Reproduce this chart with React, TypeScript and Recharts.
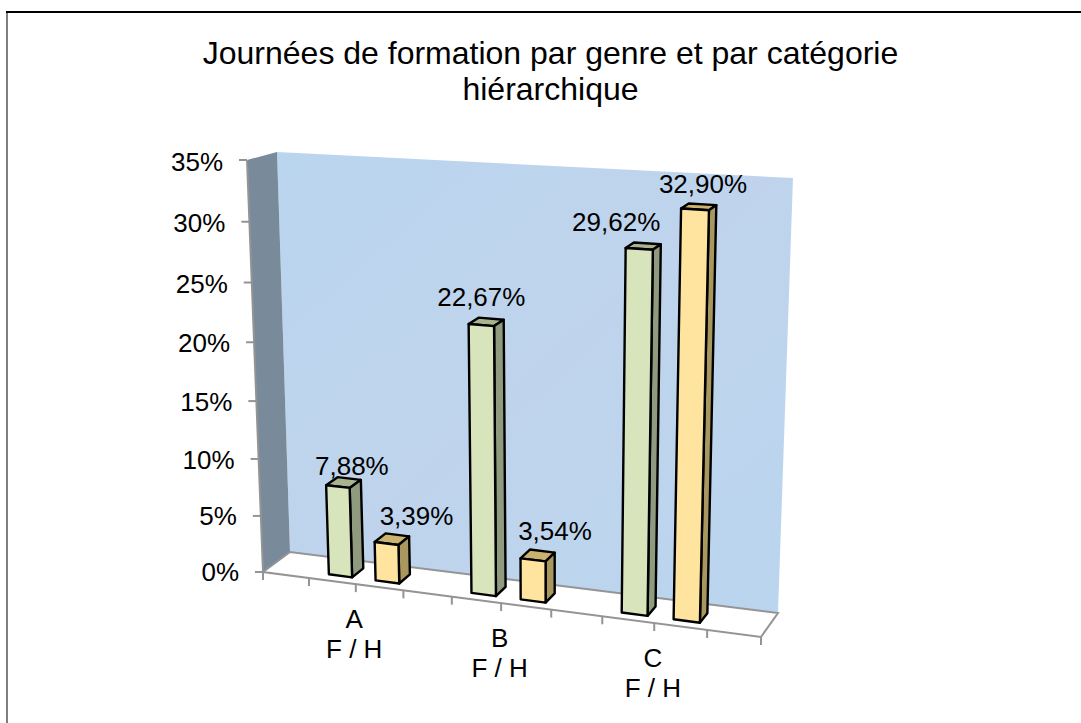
import React from "react";
import { BarChart, Bar, XAxis, YAxis, LabelList, Customized } from "recharts";

const categories = ["A", "B", "C"];
const subLabel = "F / H";
const femmes = [7.88, 22.67, 29.62];
const hommes = [3.39, 3.54, 32.9];
const yTicks = [0, 5, 10, 15, 20, 25, 30, 35];
const titleLines = ["Journées de formation par genre et par catégorie", "hiérarchique"];

const rows = categories.map((name, i) => ({ name, F: femmes[i], H: hommes[i] }));

const W = 1081, H = 723;
const YW = 60;
const M = { left: 40, top: 100, right: 381, bottom: 173 };
const XH = 30;
const PL = M.left + YW, PW = W - PL - M.right, PT = M.top, PH = H - M.top - M.bottom - XH, PB = PT + PH;
const FONT = "'Liberation Sans', Arial, sans-serif";

type P = [number, number];
// projective plane of the axis front: (u,v) unit square -> page
const Q: P[] = [[263, 572], [761, 637], [775, 189], [247, 160]];
const VP: P = [1407, -276];
const BAR_D0 = 0.0063, BAR_D1 = 0.0168;

const mk = () => {
  const [[x0, y0], [x1, y1], [x2, y2], [x3, y3]] = Q;
  const dx1 = x1 - x2, dx2 = x3 - x2, sx = x0 - x1 + x2 - x3;
  const dy1 = y1 - y2, dy2 = y3 - y2, sy = y0 - y1 + y2 - y3;
  const den = dx1 * dy2 - dx2 * dy1;
  const g = (sx * dy2 - dx2 * sy) / den, h = (dx1 * sy - sx * dy1) / den;
  const a = x1 - x0 + g * x1, b = x3 - x0 + h * x3, d = y1 - y0 + g * y1, e = y3 - y0 + h * y3;
  return (u: number, v: number): P => {
    const w = g * u + h * v + 1;
    return [(a * u + b * v + x0) / w, (d * u + e * v + y0) / w];
  };
};
const plane = mk();
const proj = (u: number, v: number, depth = 0): P => {
  const [x, y] = plane(u, v);
  return [x + depth * (VP[0] - x), y + depth * (VP[1] - y)];
};
const toU = (x: number) => (x - PL) / PW;
const toV = (y: number) => (PB - y) / PH;
const pts = (a: P[]) => a.map((p) => p.join(",")).join(" ");

const WALL_BACK: P[] = [[277, 152], [793, 178], [778, 613], [290, 552]];
const WALL_SIDE: P[] = [[247, 160], [277, 152], [290, 552], [263, 572]];
const FLOOR: P[] = [[263, 572], [290, 552], [778, 613], [761, 637]];
const GRID = "#949494";
const minorTicks = [0, 0.1, 0.2, 0.3, 0.4, 0.5, 0.6, 0.7, 0.8, 0.9, 1];

const Walls = () => (
  <g>
    <defs>
      <linearGradient id="wall" x1="0" y1="0" x2="1" y2="1">
        <stop offset="0" stopColor="#BAD5EE" />
        <stop offset="0.5" stopColor="#BFD4EC" />
        <stop offset="1" stopColor="#BAD5EE" />
      </linearGradient>
    </defs>
    {titleLines.map((t, i) => (
      <text key={t} x={550.5} y={64 + i * 36} textAnchor="middle" fontFamily={FONT} fontSize={32} fill="#000">{t}</text>
    ))}
    <polygon points={pts(WALL_BACK)} fill="url(#wall)" />
    <polygon points={pts(WALL_SIDE)} fill="#798A9B" />
    <polygon points={pts(FLOOR)} fill="#fff" stroke={GRID} strokeWidth={2} />
    <line x1={247} y1={160} x2={263} y2={572} stroke={GRID} strokeWidth={2} />
    {minorTicks.map((u) => {
      const [x, y] = proj(u, 0);
      return <line key={u} x1={x} y1={y} x2={x} y2={y + 8} stroke={GRID} strokeWidth={2} />;
    })}
  </g>
);

const faces = {
  F: { front: "#D7E4BC", side: "#8F9A7E", top: "#A9B48F" },
  H: { front: "#FEE49F", side: "#A8975F", top: "#CBB26F" },
};

const Box = (kind: "F" | "H") => (p: any) => {
  const u1 = toU(p.x), u2 = toU(p.x + p.width), v = toV(p.y);
  const fbl = proj(u1, 0, BAR_D0), fbr = proj(u2, 0, BAR_D0), ftr = proj(u2, v, BAR_D0), ftl = proj(u1, v, BAR_D0);
  const bbr = proj(u2, 0, BAR_D1), btr = proj(u2, v, BAR_D1), btl = proj(u1, v, BAR_D1);
  const c = faces[kind];
  const s = { stroke: "#000", strokeWidth: 2.4, strokeLinejoin: "round" as const };
  return (
    <g>
      <polygon points={pts([ftl, ftr, btr, btl])} fill={c.top} {...s} />
      <polygon points={pts([fbr, bbr, btr, ftr])} fill={c.side} {...s} />
      <polygon points={pts([fbl, fbr, ftr, ftl])} fill={c.front} {...s} />
    </g>
  );
};

const fmt = (v: number) => v.toFixed(2).replace(".", ",") + "%";
// label offset from the top-centre of each front face
const LABEL_SHIFT: Record<string, P[]> = {
  F: [[14, -12], [0, -19], [-23, -18]],
  H: [[30, -19], [22, -20], [8, -16]],
};
const ValueLabel = (kind: "F" | "H") => (p: any) => {
  const [x, y] = proj(toU(p.x + p.width / 2), toV(p.y), BAR_D0);
  const [dx, dy] = LABEL_SHIFT[kind][p.index];
  return (
    <text x={x + dx} y={y + dy} textAnchor="middle" fontFamily={FONT} fontSize={26} fill="#000">
      {fmt(Number(p.value))}
    </text>
  );
};

const YTick = (p: any) => {
  const v = toV(p.y);
  const [x, y] = proj(0, v);
  return (
    <g>
      <line x1={x - 8} y1={y} x2={x} y2={y} stroke={GRID} strokeWidth={2} />
      <text x={x - 24} y={y + 9 + 2 * v} textAnchor="end" fontFamily={FONT} fontSize={26} fill="#000">{p.payload.value}%</text>
    </g>
  );
};

const XTick = (p: any) => {
  const [x, y] = proj(toU(p.x), 0);
  return (
    <text textAnchor="middle" fontFamily={FONT} fontSize={26} fill="#000">
      <tspan x={x - 3} y={y + 44}>{p.payload.value}</tspan>
      <tspan x={x - 3} y={y + 74}>{subLabel}</tspan>
    </text>
  );
};

export default function App() {
  return (
    <div style={{ position: "absolute", left: 0, top: 0, width: W, height: H, overflow: "hidden", background: "#fff" }}>
      <div style={{ position: "absolute", left: 6, top: 11, width: 2, bottom: 0, background: "#7f7f7f" }} />
      <div style={{ position: "absolute", left: 6, top: 11, right: 0, height: 2, background: "#000" }} />
      <BarChart width={W} height={H} data={rows} margin={M} barSize={PW * 0.05} barGap={PW * 0.05} style={{ position: "absolute", left: 0, top: 0 }}>
        <Customized component={Walls} />
        <XAxis dataKey="name" height={XH} padding={{ left: PW * 0.053, right: PW * 0.047 }} axisLine={false} tickLine={false} interval={0} tick={XTick} />
        <YAxis width={YW} domain={[0, 35]} ticks={yTicks} axisLine={false} tickLine={false} interval={0} tick={YTick} />
        <Bar dataKey="F" isAnimationActive={false} shape={Box("F")}>
          <LabelList dataKey="F" content={ValueLabel("F")} />
        </Bar>
        <Bar dataKey="H" isAnimationActive={false} shape={Box("H")}>
          <LabelList dataKey="H" content={ValueLabel("H")} />
        </Bar>
      </BarChart>
    </div>
  );
}
